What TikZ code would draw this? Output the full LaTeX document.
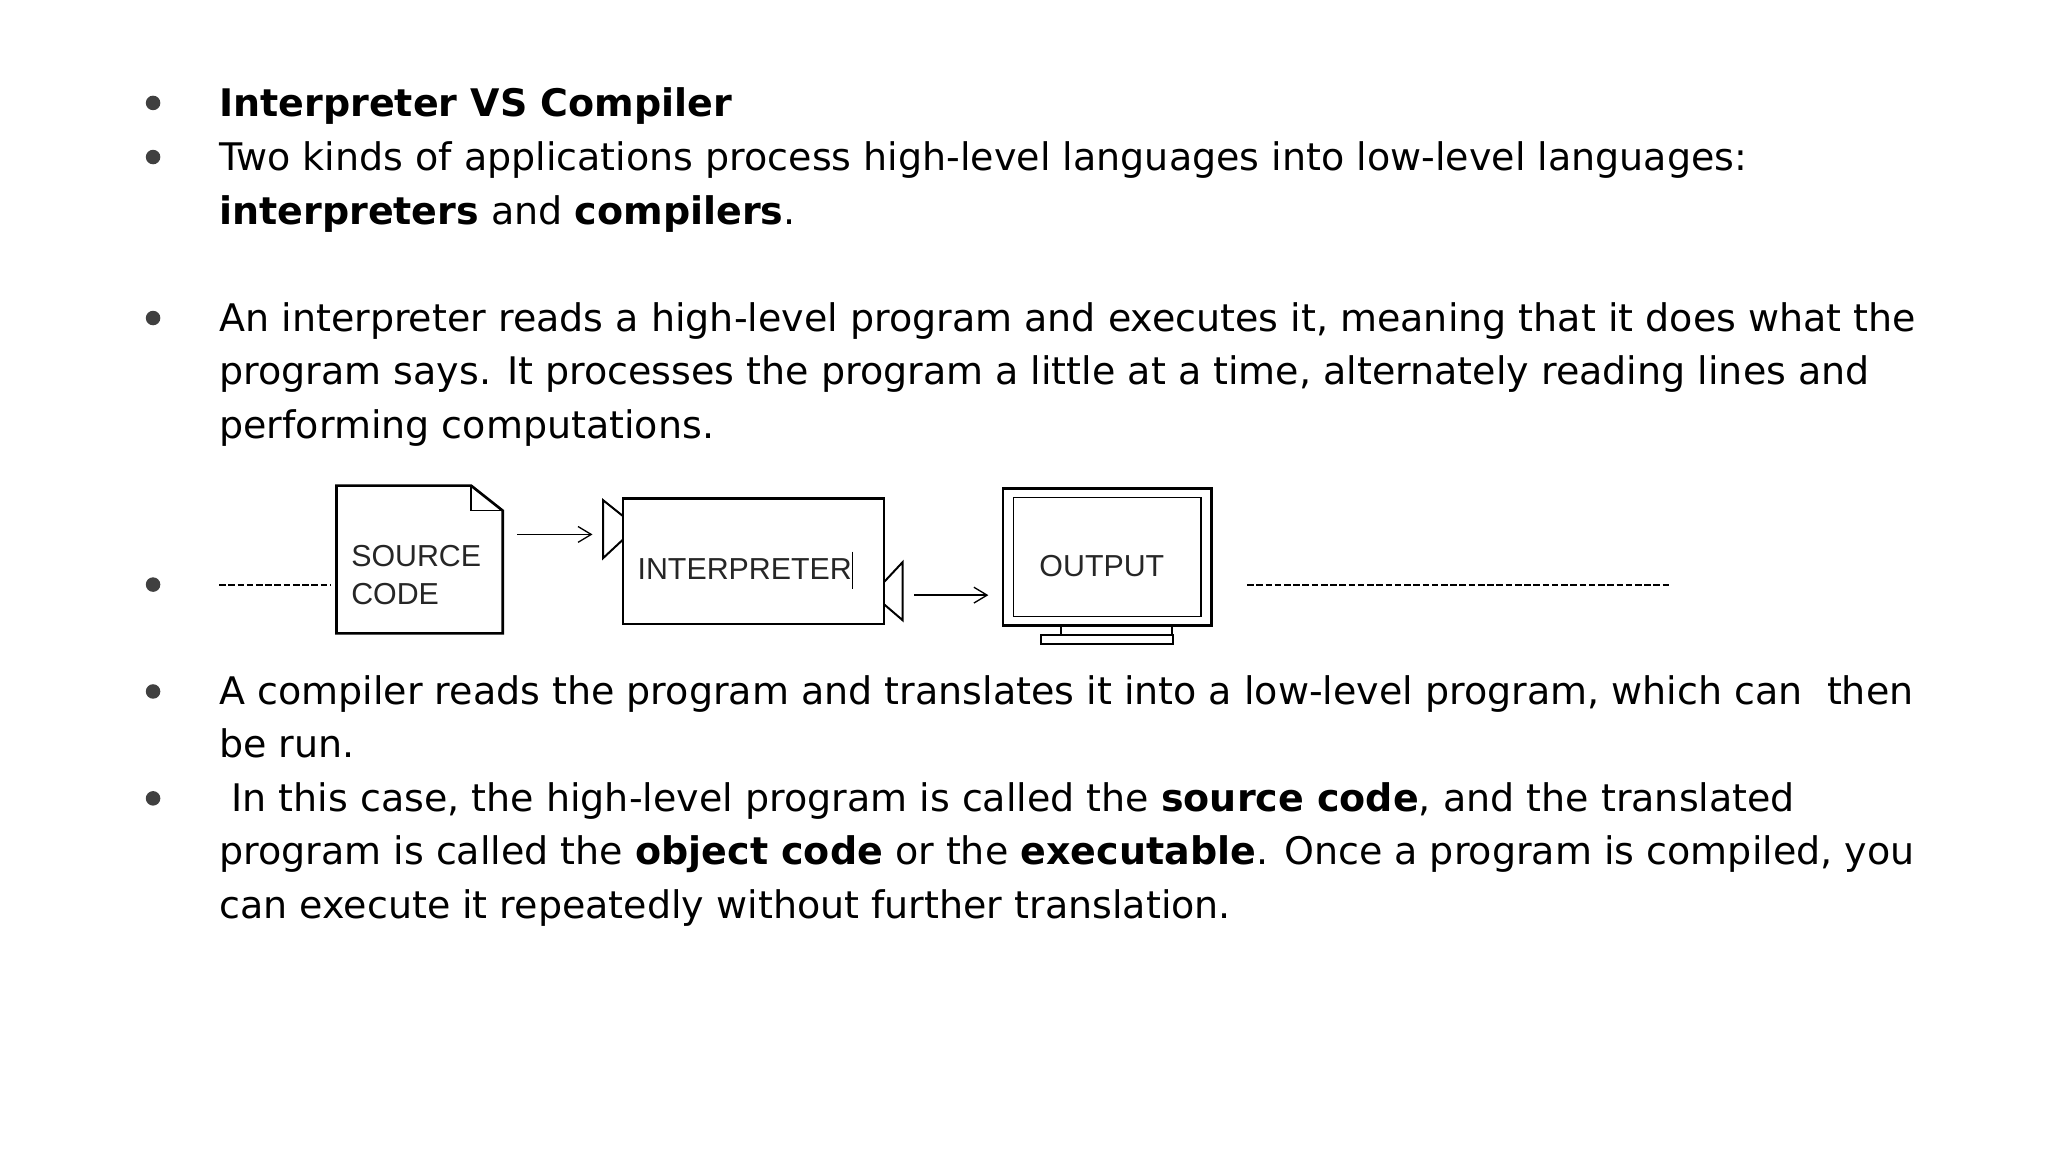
\documentclass[tikz,border=0pt]{standalone}
\usepackage{fontspec}
\setmainfont{DejaVu Sans}
\newfontfamily\arialfont{Liberation Sans}
\usetikzlibrary{arrows.meta}
\tikzset{
  txt/.style={anchor=base west,inner sep=0pt,font=\fontsize{28.8}{40}\selectfont},
  lbl/.style={inner sep=0pt,font=\arialfont\fontsize{23}{29}\selectfont,text=black!85},
  thick line/.style={line width=2pt},
  open arrow/.style={-{Straight Barb[length=10pt,width=12pt,line width=1pt]},line width=1pt},
}
\begin{document}
\begin{tikzpicture}[x=1pt,y=-1pt]
        \useasboundingbox (0,0) rectangle (1552,873);
        \fill[white] (0,0) rectangle (1552,873);
        % bullets
        \foreach \y in {78,119,241,443,524,605}
            \fill[black!75] (116,\y) circle (5.5);

        \node[txt] (t1) at (166,88) {\textbf{Interpreter VS Compiler}};
        \node[txt] (t2) at (166,129) {Two kinds of applications process high-level languages into low-level languages:};
        \node[txt] (t3) at (166,170) {\textbf{interpreters} and \textbf{compilers}.};
        \node[txt] (t4) at (166,251) {An interpreter reads a high-level program and executes it, meaning that it does what the};
        \node[txt] (t5) at (166,291) {program says. It processes the program a little at a time, alternately reading lines and};
        \node[txt] (t6) at (166,332) {performing computations.};
        \node[txt] (t7) at (166,534) {A compiler reads the program and translates it into a low-level program, which can\ \ then};
        \node[txt] (t8) at (166,574) {be run.};
        \node[txt] (t9) at (166,615) {\ In this case, the high-level program is called the \textbf{source code}, and the translated};
        \node[txt] (t10) at (166,655) {program is called the \textbf{object code} or the \textbf{executable}. Once a program is compiled, you};
        \node[txt] (t11) at (166,696) {can execute it repeatedly without further translation.};

        % diagram
        \draw[dashed,dash pattern=on 5pt off 2pt,line width=1.5pt] (166,443) -- (251,443);
        \draw[dashed,dash pattern=on 5pt off 2pt,line width=1.5pt] (945,443) -- (1266,443);

        \draw[thick line,fill=white] (255,368) -- (357,368) -- (381,387) -- (381,480) -- (255,480) -- cycle;
        \draw[line width=1pt] (357,368) -- (357,387) -- (381,387);
        \node[lbl,anchor=base west] (src1) at (266,429) {SOURCE};
        \node[lbl,anchor=base west] (src2) at (266,458) {CODE};

        \coordinate (a1s) at (392,405);
        \coordinate (a1e) at (449,405);
        \draw[open arrow] (a1s) -- (a1e);

        \draw[thick line] (472,378) rectangle (670,473);
        \draw[line width=1.5pt] (472,391) -- (457,379) -- (457,423) -- (472,409);
        \draw[line width=1.5pt] (670,441) -- (684,426) -- (684,470) -- (670,458);
        \node[lbl,anchor=base west] (interp) at (483,439) {INTERPRETER};
        \draw[line width=0.8pt] (646,418) -- (646,446);

        \coordinate (a2s) at (693,451);
        \coordinate (a2e) at (749,451);
        \draw[open arrow] (a2s) -- (a2e);

        \draw[thick line] (760,370) rectangle (918,474);
        \draw[line width=1pt] (768,377) rectangle (910,467);
        \draw[line width=1.5pt] (804,474) -- (804,481) (888,474) -- (888,481);
        \draw[line width=1.5pt] (789,481) rectangle (889,488);
        \node[lbl] (out) at (835,429) {OUTPUT};
    \end{tikzpicture}
\end{document}
